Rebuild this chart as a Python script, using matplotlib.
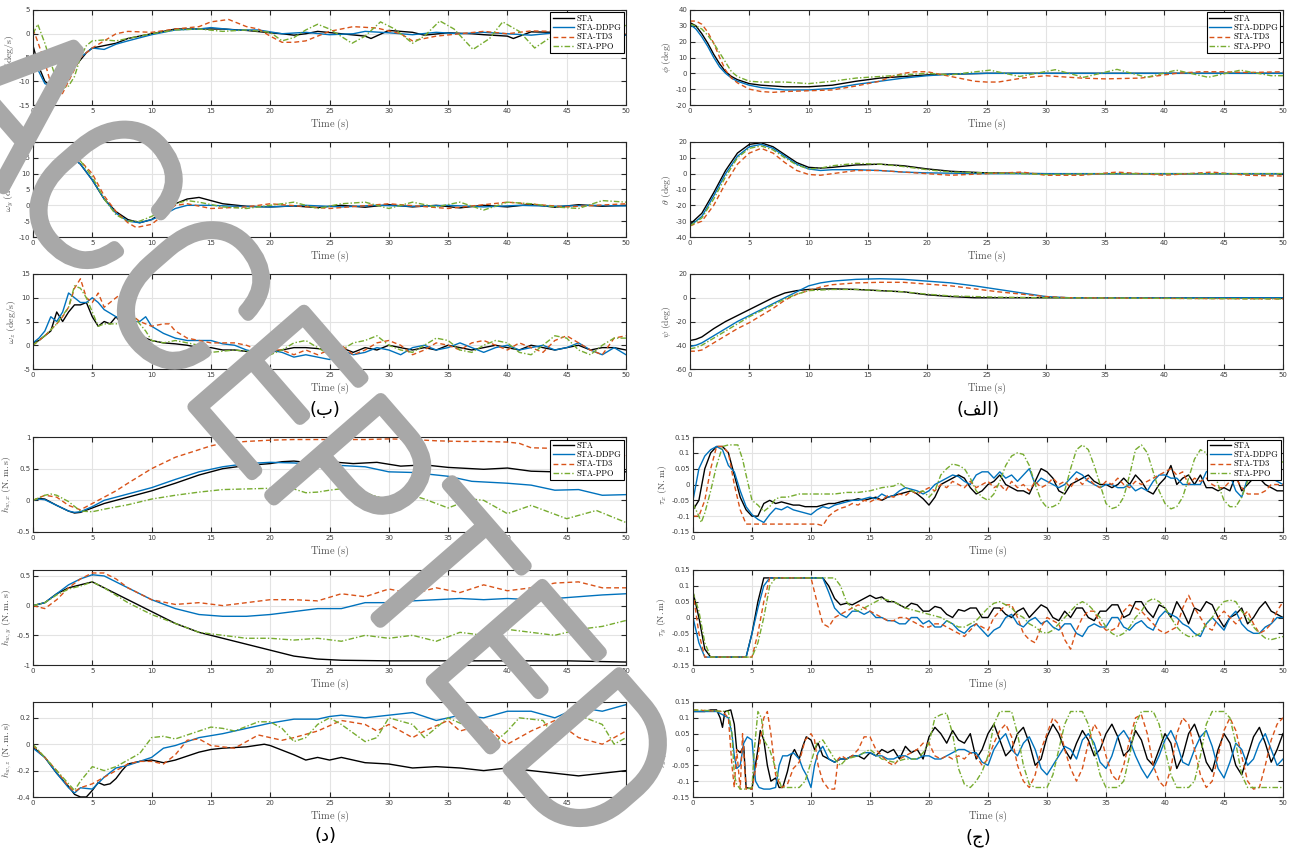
import matplotlib
matplotlib.use('Agg')
import matplotlib.pyplot as plt
import matplotlib.patheffects as pe
from matplotlib.ticker import FuncFormatter

plt.rcParams['mathtext.fontset'] = 'cm'
plt.rcParams['axes.unicode_minus'] = False

names = ['STA', 'STA-DDPG', 'STA-TD3', 'STA-PPO']

# ---- angular rates (deg/s) ----
wx_sta = [(0,-2.5),(0.5,-7),(1,-10),(1.5,-11),(2,-11),(2.5,-10),(3,-8),(3.5,-7),(4,-5.5),(4.5,-4),(5,-3),(6,-2.5),(7,-2),(8,-1),(9,-0.5),(10,0),(12,1),(14,1),(16,1),(18,0.7),(20,0.2),(21,0),(22,-0.3),(23,0),(24,0.5),(26,0),(28,-0.5),(28.5,-1),(30,0.7),(31,0.5),(32,0.3),(33,-0.3),(35,0.2),(37,0),(38,-0.2),(40,-0.5),(40.5,-1),(42,0.4),(44,0.3),(46,0),(48,0.2),(50,-0.3)]
wx_ddpg = [(0,-4.5),(0.5,-8),(1,-10.5),(1.5,-11),(2,-11),(2.5,-9.5),(3,-8),(4,-5),(5,-3),(6,-3.3),(7,-2.2),(8,-1.5),(10,-0.2),(12,0.8),(14,1),(15,1.3),(17,0.8),(19,0.8),(21,0),(23,0.3),(25,-0.2),(27,0),(28,0.5),(30,0.2),(32,-0.2),(34,0.3),(36,0),(38,0.3),(40,0),(42,-0.3),(44,0.2),(46,0.5),(48,0.3),(50,-0.3)]
wx_td3 = [(0,1),(0.3,-1),(1,-6),(1.5,-10.5),(2,-13.5),(2.5,-12.5),(3,-10),(4,-5),(5,-3),(6,-1.5),(7,0),(8,0.5),(10,0.3),(12,1),(14,1.5),(15,2.5),(16.5,3),(18,1.5),(19,1),(20,-0.5),(21,-1.8),(22,-1.8),(23,-1.5),(24,-0.5),(25,0.5),(27,1.5),(29,1.2),(31,0),(32,-1.5),(34,-0.5),(36,0),(38,0.5),(40,0),(42,0.6),(44,0.5),(46,0.2),(48,0),(50,0)]
wx_ppo = [(0,0),(0.4,2),(1,-2),(1.5,-6),(2,-10),(2.5,-11.5),(3,-11),(3.5,-9),(4,-5),(4.5,-2.5),(5,-1.5),(6,-1.3),(7,-1.5),(8,-1),(10,0),(12,0.8),(14,1),(16,0.5),(18,0.8),(20,0.3),(21,-1.5),(22,-0.8),(23,0.8),(24,2),(25,1),(26.9,-2),(28,-0.5),(29.3,2.5),(30.5,1),(32,-2),(33,-0.5),(34.3,2.7),(35.5,1),(37.1,-3.3),(38.5,-1),(39.6,2.5),(41,0.5),(42.3,-3),(43.5,-1),(44.8,1.5),(46,0.5),(47.5,-1.5),(49,0.5),(50,1.8)]

wy_sta = [(0,-1),(0.5,3),(1,8),(1.5,11),(2,13.5),(2.5,14.7),(3,15),(3.5,14.5),(4,13),(5,8),(6,2),(7,-2),(8,-4.5),(9,-5.5),(10,-4.5),(11,-2),(12,0.5),(13,2),(14,2.5),(15,1.5),(16,0.5),(18,-0.3),(20,-0.5),(22,-0.2),(24,-0.7),(26,0),(28,-0.6),(30,0.2),(32,-0.5),(34,0),(36,-0.8),(38,0),(40,-0.5),(42,0.3),(44,-0.6),(46,0.2),(48,-0.3),(50,0)]
wy_ddpg = [(0,-1),(0.5,3),(1,7),(1.5,10.5),(2,13),(2.5,14.5),(3,15),(3.5,14.5),(4,13),(5,8),(6,2),(7,-2.5),(8,-5),(9,-5.5),(10,-4.5),(11,-3),(12,-1),(13,0),(15,0),(17,-0.3),(20,-0.5),(23,0),(26,-0.5),(29,0),(32,-0.3),(35,0),(38,-0.5),(41,0),(44,-0.3),(47,0),(50,-0.2)]
wy_td3 = [(0,-1.5),(1,4),(2,11),(3,15),(4,14),(5,10),(6,3),(7,-2),(8,-5.5),(8.7,-7),(10,-6),(11,-3),(12,0),(13,0.5),(15,-1),(18,-0.5),(20,0.5),(25,-1),(30,0.5),(35,-1),(40,1),(45,-0.5),(50,0.5)]
wy_ppo = [(0,-2),(1,5),(2,12),(3,15),(4,14),(5,9),(6,2),(7,-3),(8,-5),(9,-5),(10,-3.5),(11,-1.5),(12,0.5),(13,1.5),(14,1),(16,-0.5),(18,-1),(20,0),(22,1),(24,-1),(26,0.5),(28,1),(30,-1),(32,1),(34,-0.5),(36,1),(38,-1.5),(40,1),(42,0.5),(44,-0.5),(46,-1),(48,1.5),(50,1)]

wz_sta = [(0,0.5),(0.5,1),(1,2),(1.5,3),(2,7),(2.5,5),(3,7),(3.5,8.5),(4,8.5),(4.5,9),(5,6),(5.5,4),(6,5),(6.5,4.5),(7,6),(7.5,4.5),(8,3),(8.5,3),(9,2),(10,1),(11,0.5),(12,0.3),(13,0),(14,-0.5),(15,-0.5),(16,-1),(17,-1),(18,-1.3),(19,-2),(20,-1.5),(21,-1),(22,-0.5),(23,-0.5),(24,-0.7),(25,-1),(26,-0.5),(27,-1.5),(28,-0.5),(29,-1),(30,0),(31,-0.5),(32,-1),(33,-0.5),(34,-1),(35,0),(36,-0.5),(37,-1),(38,-0.5),(39,0),(40,-0.5),(41,-1),(42,0),(43,-0.5),(44,-1),(45,-0.5),(46,0),(47,-1),(48,-0.5),(49,-0.5),(50,-1)]
wz_ddpg = [(0,0.5),(0.5,1.5),(1,3),(1.5,6),(2,5),(2.5,7),(3,11),(3.5,10),(4,9),(4.5,9),(5,10),(5.5,9),(6,7.5),(7,6),(8,5),(9,5),(9.5,6),(10,4),(11,2.5),(12,1.5),(13,1),(15,1),(16,0.3),(17,0),(18,-1),(19,-1.5),(20,-1),(21,-1.5),(22,-2.5),(23,-2),(24,-2.5),(25,-3),(26,-1),(27,-2),(28,-1.5),(29,-0.5),(30,-1),(31,-2),(32,-0.5),(33,0),(34,-1),(35,-0.5),(36,0.5),(37,-0.5),(38,-1.5),(39,-0.5),(40,0),(41,-1),(42,-0.5),(43,0),(44,-1),(45,-0.5),(46,0.5),(47,-1),(48,-2),(49,-0.5),(50,-2)]
wz_td3 = [(0,0),(1,2),(2,4.5),(2.5,6),(3,8),(3.5,12),(4,14),(4.5,10),(5,9),(5.5,11),(6,8),(7,10),(7.5,11),(8,7),(9,5),(10,4),(11,4.5),(11.5,4.5),(12,3),(13,1.5),(15,0.5),(17,0.5),(18,0),(19,-1),(20,-1),(21,-1),(22,-2),(23,-1),(24,-2),(25,-1),(26,0),(27,-2),(28,-1),(29,0.5),(30,1),(31,0),(32,-2),(33,-1),(34,0.5),(35,0),(36,-1),(37,0.5),(38,1),(39,0),(40,-1),(41,0.5),(42,-0.5),(43,-1.5),(44,1),(45,2),(46,0.5),(47,-1),(48,-2),(49,1.5),(50,2)]
wz_ppo = [(0,0),(1,2),(2,4.5),(3,8),(3.5,12.5),(4,12),(4.5,10),(5,7),(5.5,4),(6,4.5),(7,4.5),(8,5),(8.5,6),(9,4.5),(9.5,3),(10,1),(11,0.5),(12,1),(13,0.5),(14,0),(15,-1.5),(17,-1),(19,-1.5),(20,-2),(21,-1),(22,0.5),(23,1),(24,-0.5),(25,-2),(26,-1),(27,0.5),(28,1),(29,2),(30,0),(31,-1),(32,-1.5),(33,0),(34,1.5),(35,1),(36,-1),(37,-1.5),(38,0),(39,1),(40,0.5),(41,-1.5),(42,-2),(43,0),(44,2),(45,1.5),(46,-1),(47,-2),(48,0),(49,1.5),(50,1.5)]

# ---- Euler angles (deg) ----
phi_sta = [(0,32),(0.5,30),(1,25),(1.5,19),(2,12),(2.5,6),(3,1),(3.5,-2),(4,-4),(5,-6.5),(6,-7.5),(8,-8.5),(10,-8.5),(12,-7.5),(14,-5),(16,-3),(18,-2),(20,-1),(22,-0.5),(25,0),(50,0)]
phi_ddpg = [(0,31),(0.5,28),(1,23),(1.5,17),(2,10),(2.5,4),(3,0),(3.5,-3),(4,-5),(5,-7.5),(6,-9),(8,-10.5),(10,-10.5),(12,-9.5),(14,-7),(16,-5),(18,-3),(20,-1.5),(22,-0.5),(25,0),(50,0)]
phi_td3 = [(0,33),(0.5,33),(1,31),(1.5,26),(2,19),(2.5,10),(3,2),(3.5,-3),(4,-6),(5,-10),(6,-11.5),(7,-12),(8,-11.5),(10,-11),(12,-10.5),(14,-8),(16,-5),(17,-2),(18,0),(19,1),(20,1),(21,-0.5),(22,-2),(24,-5),(25,-5.5),(26,-5.5),(28,-3),(30,-1.5),(33,-3),(35,-3.5),(38,-3),(40,-1),(41,0),(43,1),(45,1),(47,0.5),(50,1)]
phi_ppo = [(0,31),(0.5,30),(1,28),(1.5,24),(2,19),(2.5,13),(3,7),(3.5,1),(4,-2),(5,-5),(6,-5.5),(8,-5.5),(10,-6.5),(12,-5),(14,-3),(16,-2),(18,-1),(20,0),(22,-1),(23.5,0.5),(25.3,2),(27.8,-2),(30.8,2.3),(33.2,-2.5),(36,2.5),(38.5,-2.5),(41,2),(43.7,-2.5),(46.4,2),(49,-1.5),(50,-1.5)]

th_sta = [(0,-32),(1,-25),(2,-12),(3,2),(4,13),(5,18.5),(6,19.5),(7,17),(8,12),(9,7),(10,4),(11,3.5),(12,4),(14,5.5),(16,6),(18,5),(20,3),(22,1.5),(25,0.5),(30,0),(50,0)]
th_ddpg = [(0,-33),(1,-27),(2,-14),(3,0),(4,11),(5,17),(6,18.5),(7,16),(8,11),(9,6),(10,3),(11,2),(12,2.5),(14,2.5),(16,2),(18,1),(20,0.5),(25,0),(50,0)]
th_td3 = [(0,-33),(1,-30),(2,-20),(3,-6),(4,6),(5,13),(6,16),(7,13),(8,7),(9,2),(10,-0.5),(11,-1),(12,0),(14,2),(16,2),(18,1),(20,0),(22,-1),(25,0),(28,1),(30,-1),(33,-1),(36,1),(40,-1),(44,1),(47,-1),(50,-1.5)]
th_ppo = [(0,-33),(1,-28),(2,-16),(3,-2),(4,10),(5,16),(6,17.5),(7,15),(8,10),(9,5.5),(10,3),(11,3.5),(12,5),(14,6.5),(16,6),(18,4.5),(20,2.5),(22,1),(25,0.5),(28,0),(30,-0.5),(35,0),(50,0)]

psi_sta = [(0,-36),(0.5,-35),(1,-33),(2,-26),(3,-20),(4,-15),(5,-10),(6,-5),(7,0),(8,4),(9,6),(10,7),(12,7.5),(14,7),(16,6),(18,5),(20,2.5),(22,1),(24,0),(50,0)]
psi_ddpg = [(0,-41),(0.5,-40),(1,-38),(2,-32),(3,-26),(4,-20),(5,-15),(6,-10),(7,-5),(8,0),(9,5),(10,10),(11,12.5),(12,14),(14,15.5),(16,16),(18,15.5),(20,14),(22,12.5),(24,10),(26,7),(28,4),(30,1),(32,0),(50,0)]
psi_td3 = [(0,-45),(0.5,-45),(1,-44),(2,-38),(3,-32),(4,-26),(5,-21),(6,-15),(7,-9),(8,-2),(9,3),(10,6),(11,9),(12,11),(14,12.5),(16,13),(18,13),(20,11.5),(22,10),(24,7.5),(26,5),(28,3),(30,1),(32,0),(40,-0.5),(50,-1)]
psi_ppo = [(0,-43),(0.5,-42),(1,-40),(2,-34),(3,-28),(4,-22),(5,-16),(6,-11),(7,-6),(8,-1),(9,3),(10,6),(12,7),(14,7),(16,6),(18,5),(20,3),(22,1.5),(24,1),(26,0.5),(30,0),(40,-0.5),(50,-1)]

# ---- wheel momentum (N.m.s) ----
hx_sta = [(0,0),(0.5,0.03),(1,0.02),(2,-0.08),(3,-0.17),(3.5,-0.2),(4,-0.19),(5,-0.12),(6,-0.05),(8,0.05),(10,0.15),(12,0.27),(14,0.4),(16,0.5),(18,0.55),(20,0.58),(21,0.61),(22,0.62),(23,0.6),(24,0.58),(25,0.61),(27,0.58),(29,0.6),(31,0.54),(33,0.56),(35,0.52),(38,0.49),(40,0.51),(42,0.46),(44,0.45),(46,0.47),(48,0.45),(50,0.45)]
hx_ddpg = [(0,0),(0.5,0.02),(1,0.01),(2,-0.08),(3,-0.17),(3.5,-0.19),(4,-0.18),(5,-0.1),(6,0),(8,0.1),(10,0.2),(12,0.33),(14,0.45),(16,0.53),(18,0.58),(20,0.6),(22,0.59),(25,0.56),(28,0.53),(30,0.45),(32,0.44),(35,0.38),(37,0.3),(40,0.27),(42,0.24),(44,0.16),(46,0.17),(48,0.08),(50,0.09)]
hx_td3 = [(0,0),(1,0.08),(2,0.05),(3,-0.08),(4,-0.15),(4.5,-0.1),(5,-0.05),(6,0.05),(7,0.15),(8,0.27),(10,0.5),(12,0.68),(14,0.8),(15,0.86),(16,0.9),(18,0.93),(20,0.95),(22,0.96),(25,0.96),(28,0.96),(30,0.97),(32,0.96),(34,0.94),(36,0.93),(38,0.93),(40,0.92),(41,0.9),(42,0.83),(44,0.82),(46,0.83),(48,0.8),(50,0.7)]
hx_ppo = [(0,0),(1,0.08),(1.5,0.1),(2,0.08),(3,-0.02),(4,-0.17),(5,-0.18),(6,-0.14),(8,-0.07),(10,0.02),(12,0.08),(14,0.13),(16,0.17),(18,0.18),(20,0.19),(21,0.22),(22,0.18),(23,0.12),(24,0.13),(25,0.16),(26.7,0.2),(28,0.12),(30,0),(31.5,0.11),(33,0.02),(35,-0.12),(37,0.02),(38,0),(40,-0.21),(42,-0.08),(43,-0.15),(45,-0.29),(47.5,-0.16),(50,-0.35)]

hy_sta = [(0,0),(1,0.05),(2,0.2),(3,0.3),(4,0.35),(5,0.4),(6,0.3),(8,0.1),(10,-0.1),(12,-0.3),(14,-0.45),(16,-0.55),(18,-0.65),(20,-0.75),(22,-0.85),(24,-0.9),(26,-0.92),(30,-0.93),(35,-0.93),(40,-0.93),(45,-0.93),(50,-0.95)]
hy_ddpg = [(0,0),(1,0.05),(2,0.2),(3,0.35),(4,0.45),(5,0.52),(6,0.5),(8,0.3),(10,0.1),(12,-0.05),(14,-0.15),(16,-0.18),(18,-0.18),(20,-0.15),(22,-0.1),(24,-0.05),(26,-0.05),(28,0.05),(30,0.05),(32,0.08),(34,0.1),(36,0.12),(38,0.1),(40,0.12),(42,0.1),(44,0.12),(46,0.15),(48,0.18),(50,0.2)]
hy_td3 = [(0,0),(1,-0.05),(2,0.1),(3,0.3),(4,0.45),(5,0.55),(6,0.55),(7,0.45),(8,0.3),(10,0.1),(12,0.02),(14,0.05),(16,0),(18,0.05),(20,0.1),(22,0.1),(24,0.08),(26,0.2),(28,0.15),(30,0.28),(32,0.2),(34,0.3),(36,0.22),(38,0.35),(40,0.25),(42,0.3),(44,0.38),(46,0.4),(48,0.3),(50,0.3)]
hy_ppo = [(0,0),(1,0.05),(2,0.18),(3,0.28),(4,0.33),(5,0.4),(6,0.3),(8,0.05),(10,-0.15),(12,-0.3),(14,-0.45),(16,-0.5),(18,-0.55),(20,-0.55),(22,-0.58),(24,-0.55),(26,-0.6),(28,-0.5),(30,-0.55),(32,-0.5),(34,-0.6),(36,-0.45),(38,-0.5),(40,-0.4),(42,-0.45),(44,-0.5),(46,-0.4),(48,-0.35),(50,-0.25)]

hz_sta = [(0,-0.02),(1,-0.1),(2,-0.22),(3,-0.32),(3.5,-0.38),(4,-0.4),(4.5,-0.4),(5,-0.35),(5.5,-0.29),(6,-0.31),(6.5,-0.3),(7,-0.26),(7.5,-0.2),(8,-0.15),(9,-0.13),(10,-0.12),(11,-0.14),(12,-0.12),(14,-0.06),(15,-0.04),(16,-0.03),(18,-0.02),(19.5,0),(20,-0.01),(22,-0.08),(23,-0.12),(24,-0.1),(25,-0.12),(26,-0.1),(28,-0.14),(30,-0.15),(32,-0.18),(34,-0.17),(36,-0.18),(38,-0.2),(40,-0.18),(42,-0.2),(44,-0.22),(46,-0.24),(48,-0.22),(50,-0.2)]
hz_ddpg = [(0,-0.03),(1,-0.1),(2,-0.22),(3,-0.33),(3.5,-0.37),(4,-0.33),(5,-0.34),(6,-0.25),(7,-0.18),(8,-0.16),(9,-0.13),(10,-0.1),(11,-0.03),(12,-0.01),(14,0.05),(16,0.08),(18,0.12),(20,0.16),(22,0.19),(24,0.19),(25,0.21),(26,0.22),(28,0.2),(30,0.22),(32,0.24),(34,0.18),(36,0.22),(38,0.2),(40,0.25),(42,0.25),(44,0.2),(46,0.28),(48,0.25),(50,0.3)]
hz_td3 = [(0,-0.01),(1,-0.1),(2,-0.2),(3,-0.32),(3.5,-0.36),(4,-0.33),(5,-0.3),(6,-0.25),(7,-0.2),(8,-0.15),(9,-0.13),(10,-0.13),(11,-0.15),(12,-0.08),(13,0.03),(14,0.04),(15,-0.01),(17,-0.03),(19,0.07),(20,0.05),(21,0.03),(22,0.05),(24,0.1),(25,0.14),(26,0.18),(28,0.15),(29,0.1),(30,0.15),(32,0.05),(33,0.1),(35,0.18),(36,0.1),(38,0.15),(40,0),(42,0.1),(44,0.18),(46,0.05),(48,0),(50,0.1)]
hz_ppo = [(0,0),(1,-0.1),(2,-0.2),(3,-0.3),(3.5,-0.35),(4,-0.28),(5,-0.17),(6,-0.2),(7,-0.17),(8,-0.12),(9,-0.07),(10,0.05),(11,0.06),(12,0.04),(14,0.1),(15,0.13),(16,0.12),(17,0.1),(19,0.17),(20,0.17),(21,0.12),(22,0.02),(23,0.05),(24,0.15),(25,0.2),(26,0.15),(28,0.02),(29,0.05),(30,0.2),(32,0.15),(33,0.05),(35,0.2),(37,0.12),(39,0.02),(40,0.1),(41,0.2),(43,0.18),(44,0.05),(45,0.1),(46,0.22),(48,0.15),(49,0),(50,0.05)]

# ---- control torques (N.m) ----
tx_sta = [(0,-0.08),(0.5,-0.05),(1,0.05),(1.5,0.1),(2,0.12),(2.5,0.12),(3,0.1),(3.5,0.03),(4,-0.04),(4.5,-0.08),(5,-0.1),(5.5,-0.1),(6,-0.06),(6.5,-0.05),(7,-0.06),(7.5,-0.055),(8,-0.06),(8.5,-0.065),(9,-0.065),(9.5,-0.07),(10,-0.07),(10.5,-0.07),(11,-0.065),(11.5,-0.06),(12,-0.06),(12.5,-0.055),(13,-0.05),(13.5,-0.05),(14,-0.045),(14.5,-0.05),(15,-0.045),(15.5,-0.04),(16,-0.05),(16.5,-0.04),(17,-0.035),(17.5,-0.03),(18,-0.025),(18.5,-0.02),(19,-0.03),(19.5,-0.045),(20,-0.065),(20.5,-0.04),(21,0),(21.5,0.01),(22,0.02),(22.5,0.03),(23,0.02),(23.5,-0.01),(24,-0.03),(24.5,-0.02),(25,0),(25.5,0.01),(26,0.03),(26.5,0),(27,-0.01),(27.5,-0.02),(28,-0.02),(28.5,-0.03),(29,0.01),(29.5,0.05),(30,0.04),(30.5,0.02),(31,-0.02),(31.5,-0.03),(32,0),(32.5,0.01),(33,0.02),(33.5,0.03),(34,0.01),(34.5,0),(35,0),(35.5,-0.01),(36,0),(36.5,0.02),(37,0),(37.5,0.03),(38,0.01),(38.5,-0.02),(39,-0.03),(39.5,0),(40,0.02),(40.5,0.06),(41,0),(41.5,0.02),(42,0.03),(42.5,0),(43,0.03),(43.5,-0.01),(44,-0.01),(44.5,-0.02),(45,-0.01),(45.5,-0.02),(46,0.03),(46.5,-0.02),(47,0),(47.5,0.02),(48,0.02),(48.5,0),(49,-0.01),(49.5,-0.02),(50,-0.02)]
tx_ddpg = [(0,-0.05),(0.5,0.05),(1,0.09),(1.5,0.11),(2,0.12),(2.5,0.11),(3,0.06),(3.5,0.04),(4,-0.02),(4.5,-0.07),(5,-0.095),(5.5,-0.11),(6,-0.12),(6.5,-0.095),(7,-0.075),(7.5,-0.08),(8,-0.07),(8.5,-0.08),(9,-0.085),(9.5,-0.09),(10,-0.095),(10.5,-0.08),(11,-0.07),(11.5,-0.075),(12,-0.065),(12.5,-0.06),(13,-0.055),(13.5,-0.05),(14,-0.05),(14.5,-0.045),(15,-0.04),(15.5,-0.045),(16,-0.03),(16.5,-0.04),(17,-0.035),(17.5,-0.02),(18,-0.01),(18.5,-0.015),(19,-0.02),(19.5,-0.03),(20,-0.02),(20.5,0),(21,0.01),(21.5,0.02),(22,0.03),(22.5,0.025),(23,0.01),(23.5,0),(24,0.03),(24.5,0.04),(25,0.04),(25.5,0.02),(26,0.04),(26.5,0.02),(27,0.03),(27.5,0.01),(28,0.03),(28.5,0.05),(29,0),(29.5,0.02),(30,0.01),(30.5,0),(31,-0.01),(31.5,0),(32,0.02),(32.5,0.04),(33,0.03),(33.5,0.01),(34,0),(34.5,-0.01),(35,0),(35.5,0),(36,-0.01),(36.5,-0.01),(37,0),(37.5,-0.02),(38,-0.01),(38.5,-0.02),(39,0.01),(39.5,0.03),(40,0.03),(40.5,0.02),(41,0.02),(41.5,0),(42,0),(42.5,0),(43,0),(43.5,0.04),(44,0.05),(44.5,0.05),(45,0.05),(45.5,0.03),(46,-0.02),(46.5,-0.04),(47,0.02),(47.5,0.03),(48,0.03),(48.5,0.02),(49,0.02),(49.5,0.01),(50,0)]
tx_td3 = [(0,-0.1),(0.5,-0.1),(1,-0.05),(1.5,0.05),(2,0.12),(2.5,0.12),(3,0.1),(3.5,0),(4,-0.08),(4.5,-0.125),(5,-0.125),(7,-0.125),(9,-0.125),(10.5,-0.125),(11,-0.13),(11.5,-0.1),(12,-0.085),(12.5,-0.075),(13,-0.07),(13.5,-0.06),(14,-0.065),(14.5,-0.05),(15,-0.055),(15.5,-0.045),(16,-0.05),(16.5,-0.035),(17,-0.04),(17.5,-0.03),(18,-0.035),(18.5,-0.02),(19,-0.03),(19.5,-0.02),(20,-0.01),(20.5,-0.02),(21,0),(21.5,-0.01),(22,0.01),(22.5,0),(23,-0.01),(23.5,0.01),(24,-0.01),(24.5,0),(25,0.01),(25.5,-0.01),(26,0),(26.5,-0.02),(27,0.01),(27.5,-0.01),(28,0),(28.5,-0.02),(29,0.01),(29.5,-0.01),(30,0),(30.5,0.02),(31,0),(31.5,0.01),(32,-0.01),(32.5,0.02),(33,0),(33.5,0.02),(34,0),(34.5,-0.01),(35,0.01),(35.5,0),(36,0.02),(36.5,0),(37,-0.01),(37.5,0.01),(38,0),(38.5,0.01),(39,0.02),(39.5,0.03),(40,0.04),(40.5,0.05),(41,0.03),(41.5,0.04),(42,0),(42.5,0.02),(43,0.01),(43.5,0.02),(44,0),(44.5,-0.01),(45,-0.01),(45.5,0.01),(46,0.02),(46.5,-0.01),(47,-0.03),(47.5,-0.03),(48,-0.03),(48.5,-0.02),(49,0),(49.5,0),(50,0)]
tx_ppo = [(0,-0.06),(0.5,-0.1),(0.7,-0.12),(1,-0.09),(1.5,-0.02),(2,0.06),(2.5,0.12),(3,0.125),(3.8,0.125),(4.2,0.08),(4.5,0.03),(5,-0.05),(5.5,-0.065),(6,-0.085),(6.5,-0.07),(7,-0.045),(7.5,-0.04),(8,-0.04),(8.5,-0.035),(9,-0.03),(10,-0.03),(11,-0.03),(12,-0.03),(13,-0.025),(14,-0.025),(15,-0.02),(16,-0.01),(17,-0.005),(17.5,0.005),(18,-0.01),(18.5,-0.02),(19,-0.025),(19.5,-0.02),(20,-0.04),(20.5,-0.02),(21,0.03),(21.5,0.05),(22,0.065),(22.5,0.06),(23,0.05),(23.5,0.02),(24,-0.02),(24.5,-0.04),(25,-0.05),(25.5,-0.03),(26,0.01),(26.5,0.06),(27,0.09),(27.5,0.1),(28,0.095),(28.5,0.06),(29,0),(29.5,-0.05),(30,-0.073),(30.5,-0.07),(31,-0.06),(31.5,-0.02),(32,0.05),(32.5,0.11),(33,0.125),(33.5,0.11),(34,0.06),(34.5,0),(35,-0.06),(35.5,-0.076),(36,-0.07),(36.5,-0.04),(37,0.03),(37.5,0.11),(38,0.125),(38.5,0.1),(39,0.04),(39.5,-0.02),(40,-0.06),(40.5,-0.077),(41,-0.07),(41.5,-0.04),(42,0.02),(42.5,0.08),(43,0.11),(43.5,0.1),(44,0.06),(44.5,0),(45,-0.05),(45.5,-0.07),(46,-0.07),(46.5,-0.04),(47,0.01),(47.5,0.06),(48,0.09),(48.5,0.1),(49,0.09),(49.5,0.08),(50,0.07)]

ty_sta = [(0,0.08),(0.5,0),(1,-0.1),(1.5,-0.125),(4.5,-0.125),(5,-0.05),(5.5,0.05),(6,0.125),(11,0.125),(11.5,0.1),(12,0.06),(12.5,0.04),(13,0.045),(13.5,0.04),(14,0.05),(14.5,0.06),(15,0.07),(15.5,0.06),(16,0.065),(16.5,0.05),(17,0.05),(17.5,0.04),(18,0.03),(18.5,0.045),(19,0.04),(19.5,0.02),(20,0.02),(20.5,0.035),(21,0.03),(21.5,0.01),(22,0),(22.5,0.025),(23,0.02),(23.5,0.03),(24,0.03),(24.5,0),(25,0),(25.5,0.03),(26,0.03),(26.5,0.01),(27,0),(27.5,0.02),(28,0.03),(28.5,0),(29,0.02),(29.5,0.04),(30,0.03),(30.5,0),(31,-0.01),(31.5,0.02),(32,0),(32.5,0.03),(33,0.03),(33.5,0),(34,-0.01),(34.5,0.02),(35,0.02),(35.5,0.04),(36,0.04),(36.5,0),(37,0.01),(37.5,0.05),(38,0.05),(38.5,0.02),(39,0),(39.5,0.04),(40,0.03),(40.5,0),(41,0.05),(41.5,0.02),(42,-0.02),(42.5,0.03),(43,0.02),(43.5,0.05),(44,0.04),(44.5,0),(45,-0.03),(45.5,0),(46,0.01),(46.5,0.03),(47,-0.02),(47.5,0),(48,0.03),(48.5,0.05),(49,0.02),(49.5,0.01),(50,0)]
ty_ddpg = [(0,0),(0.5,-0.08),(1,-0.125),(4.5,-0.125),(5,-0.05),(5.5,0.03),(6,0.1),(6.5,0.125),(11,0.125),(11.5,0.08),(12,0.03),(12.5,0.01),(13,0),(13.5,0.02),(14,0.02),(14.5,0.01),(15,0.02),(15.5,0),(16,0),(16.5,-0.01),(17,-0.01),(17.5,-0.02),(18,-0.02),(18.5,0),(19,0),(19.5,-0.02),(20,-0.01),(20.5,-0.03),(21,-0.03),(21.5,-0.01),(22,-0.02),(22.5,-0.04),(23,-0.05),(23.5,-0.03),(24,-0.02),(24.5,-0.04),(25,-0.06),(25.5,-0.04),(26,-0.03),(26.5,0),(27,0.01),(27.5,-0.02),(28,-0.03),(28.5,-0.01),(29,0),(29.5,-0.02),(30,-0.01),(30.5,-0.03),(31,-0.04),(31.5,-0.02),(32,-0.02),(32.5,-0.05),(33,-0.06),(33.5,-0.03),(34,-0.02),(34.5,-0.03),(35,-0.03),(35.5,0),(36,0),(36.5,-0.03),(37,-0.04),(37.5,-0.02),(38,-0.01),(38.5,-0.03),(39,-0.04),(39.5,0),(40,0.02),(40.5,0.01),(41,0),(41.5,-0.02),(42,-0.03),(42.5,-0.05),(43,-0.06),(43.5,-0.02),(44,0),(44.5,-0.02),(45,-0.04),(45.5,0),(46,0.02),(46.5,-0.02),(47,-0.04),(47.5,-0.05),(48,-0.05),(48.5,-0.03),(49,-0.02),(49.5,0),(50,0)]
ty_td3 = [(0,0.08),(0.5,-0.05),(1,-0.125),(5,-0.125),(5.5,-0.05),(6,0.05),(6.5,0.125),(10,0.125),(10.5,0.05),(11,-0.02),(11.5,-0.03),(12,0),(12.5,0.01),(13,0.02),(13.5,0.03),(14,0.04),(14.5,0.03),(15,0.02),(15.5,0.01),(16,0),(16.5,-0.01),(17,-0.01),(17.5,0),(18,0),(18.5,-0.01),(19,-0.02),(19.5,-0.03),(20,-0.03),(20.5,-0.02),(21,-0.02),(21.5,-0.03),(22,-0.04),(22.5,-0.05),(23,-0.06),(23.5,-0.04),(24,-0.02),(24.5,-0.03),(25,-0.04),(25.5,0),(26,0.02),(26.5,0.04),(27,0.04),(27.5,0),(28,-0.05),(28.5,-0.07),(29,-0.08),(29.5,-0.03),(30,0),(30.5,-0.01),(31,-0.02),(31.5,-0.07),(32,-0.1),(32.5,-0.04),(33,0),(33.5,0.02),(34,0.02),(34.5,-0.02),(35,-0.04),(35.5,-0.04),(36,-0.03),(36.5,0.02),(37,0.04),(37.5,0.03),(38,0.02),(38.5,0),(39,-0.02),(39.5,-0.04),(40,-0.05),(40.5,-0.04),(41,-0.03),(41.5,0.03),(42,0.07),(42.5,0.03),(43,0),(43.5,-0.03),(44,-0.04),(44.5,0),(45,0.02),(45.5,0),(46,-0.02),(46.5,0),(47,0.02),(47.5,-0.02),(48,-0.05),(48.5,-0.04),(49,-0.02),(49.5,0.02),(50,0.05)]
ty_ppo = [(0,0.08),(0.5,0.02),(1,-0.08),(1.5,-0.125),(5,-0.125),(5.5,-0.08),(6,0),(6.5,0.1),(7,0.125),(12,0.125),(12.5,0.1),(13,0.05),(13.5,0.03),(14,0.02),(14.5,0.03),(15,0.04),(15.5,0.05),(16,0.06),(16.5,0.055),(17,0.05),(17.5,0.04),(18,0.03),(18.5,0.025),(19,0.02),(19.5,0.015),(20,0.01),(20.5,0.005),(21,0),(21.5,-0.01),(22,-0.02),(22.5,-0.03),(23,-0.03),(23.5,-0.02),(24,-0.01),(24.5,0.01),(25,0.03),(25.5,0.045),(26,0.05),(26.5,0.04),(27,0.03),(27.5,0.01),(28,0),(28.5,-0.02),(29,-0.03),(29.5,-0.045),(30,-0.05),(30.5,-0.04),(31,-0.02),(31.5,0),(32,0.02),(32.5,0.04),(33,0.05),(33.5,0.04),(34,0.02),(34.5,0),(35,-0.03),(35.5,-0.05),(36,-0.06),(36.5,-0.05),(37,-0.03),(37.5,0),(38,0.02),(38.5,0.05),(39,0.06),(39.5,0.05),(40,0.03),(40.5,0),(41,-0.03),(41.5,-0.05),(42,-0.06),(42.5,-0.06),(43,-0.05),(43.5,-0.02),(44,0),(44.5,0.03),(45,0.05),(45.5,0.055),(46,0.05),(46.5,0.02),(47,0),(47.5,-0.03),(48,-0.05),(48.5,-0.065),(49,-0.07),(49.5,-0.065),(50,-0.06)]

tz_sta = [(0,0.12),(1,0.12),(1.5,0.125),(2,0.125),(2.3,0.1),(2.5,0.07),(2.7,0.12),(3.2,0.125),(3.5,0.08),(3.7,0),(4,-0.01),(4.3,0.01),(4.5,-0.12),(5,-0.125),(5.2,-0.07),(5.5,0),(5.7,0.06),(6,0.03),(6.3,-0.05),(6.6,-0.1),(7,-0.09),(7.3,-0.12),(7.6,-0.12),(8,-0.07),(8.3,-0.02),(8.6,0),(9,-0.03),(9.3,0.01),(9.6,0.04),(10,0.03),(10.3,0),(10.6,0.02),(11,-0.02),(11.5,-0.03),(12,-0.04),(12.5,-0.03),(13,-0.03),(13.5,-0.02),(14,-0.02),(14.5,-0.03),(15,-0.01),(15.5,-0.02),(16,0),(16.5,-0.01),(17,0),(17.5,-0.03),(18,0.01),(18.5,-0.01),(19,0),(19.5,-0.03),(20,0.04),(20.5,0.07),(21,0.05),(21.5,0.02),(22,0.06),(22.5,0.03),(23,0.02),(23.5,0.05),(24,-0.03),(24.5,0),(25,0.05),(25.5,0.08),(26,0.03),(26.5,-0.02),(27,0),(27.5,0.05),(28,0.07),(28.5,0.02),(29,-0.05),(29.5,-0.03),(30,0.04),(30.5,0.08),(31,0.05),(31.5,0),(32,-0.03),(32.5,0.02),(33,0.06),(33.5,0.03),(34,-0.02),(34.5,0),(35,0.05),(35.5,0.08),(36,0.04),(36.5,-0.02),(37,0),(37.5,0.06),(38,0.03),(38.5,-0.03),(39,-0.05),(39.5,0),(40,0.05),(40.5,0.02),(41,-0.06),(41.5,-0.02),(42,0.05),(42.5,0.08),(43,0.03),(43.5,-0.04),(44,-0.07),(44.5,0),(45,0.05),(45.5,0.02),(46,-0.05),(46.5,-0.08),(47,-0.02),(47.5,0.04),(48,0.07),(48.5,0.02),(49,-0.04),(49.5,0),(50,0.05)]
tz_ddpg = [(0,0.12),(2,0.12),(2.5,0.11),(3,0.1),(3.3,0.05),(3.5,-0.02),(3.7,-0.06),(4,-0.05),(4.3,0.02),(4.6,0.04),(5,0.03),(5.3,-0.1),(5.6,-0.12),(6,-0.125),(6.5,-0.125),(7,-0.12),(7.3,-0.05),(7.6,-0.02),(8,-0.02),(8.5,-0.01),(9,-0.03),(9.3,-0.06),(9.6,-0.08),(10,-0.12),(10.3,-0.05),(10.6,-0.01),(11,0.01),(11.5,-0.03),(12,-0.04),(12.5,-0.03),(13,-0.03),(13.5,-0.02),(14,-0.02),(14.5,-0.01),(15,-0.01),(15.5,-0.02),(16,-0.02),(16.5,-0.03),(17,-0.03),(17.5,-0.02),(18,-0.02),(18.5,-0.03),(19,-0.03),(19.5,-0.02),(20,-0.02),(20.5,-0.03),(21,-0.03),(21.5,-0.02),(22,-0.01),(22.5,0),(23,0),(23.5,-0.01),(24,-0.01),(24.5,-0.04),(25,-0.05),(25.5,0),(26,0.03),(26.5,0.05),(27,0),(27.5,-0.02),(28,0.02),(28.5,0.04),(29,0),(29.5,-0.06),(30,-0.08),(30.5,-0.05),(31,-0.02),(31.5,0.01),(32,0),(32.5,-0.03),(33,0.03),(33.5,0.05),(34,0.02),(34.5,-0.04),(35,-0.06),(35.5,-0.02),(36,0.04),(36.5,0.06),(37,0.03),(37.5,-0.02),(38,-0.06),(38.5,-0.09),(39,-0.06),(39.5,-0.02),(40,0.03),(40.5,0.06),(41,0.02),(41.5,-0.04),(42,-0.05),(42.5,0),(43,0.04),(43.5,0.06),(44,0.01),(44.5,-0.06),(45,-0.09),(45.5,-0.04),(46,0.02),(46.5,0),(47,-0.05),(47.5,-0.03),(48,0.02),(48.5,0.05),(49,0),(49.5,-0.05),(50,-0.03)]
tz_td3 = [(0,0.125),(2.5,0.12),(3,0.1),(3.3,-0.05),(3.5,-0.12),(3.7,0),(4,-0.125),(4.2,0.05),(4.5,-0.125),(5,-0.125),(5.5,-0.02),(6,0.1),(6.3,0.12),(6.6,0.05),(7,-0.08),(7.5,-0.12),(8,-0.11),(8.5,-0.06),(9,-0.04),(9.5,0.03),(10,0.05),(10.3,0.03),(10.6,-0.05),(11,-0.1),(11.5,-0.125),(12,-0.125),(12.3,-0.03),(12.6,-0.02),(13,-0.03),(13.5,-0.02),(14,0),(14.5,0.04),(15,0.04),(15.5,0),(16,-0.02),(16.5,-0.04),(17,-0.05),(17.5,-0.03),(18,-0.02),(18.5,-0.01),(19,0),(19.5,0.02),(20,0.02),(20.5,-0.02),(21,-0.03),(21.5,-0.02),(22,-0.03),(22.5,-0.02),(23,-0.03),(23.5,-0.01),(24,-0.02),(24.5,-0.05),(25,-0.03),(25.5,0.02),(26,0.06),(26.5,0.08),(27,0.04),(27.5,-0.05),(28,-0.1),(28.5,-0.12),(29,-0.08),(29.5,0),(30,0.05),(30.5,0.1),(31,0.08),(31.5,0),(32,-0.06),(32.5,-0.1),(33,-0.06),(33.5,0.02),(34,0.08),(34.5,0.05),(35,-0.02),(35.5,-0.08),(36,-0.1),(36.5,-0.05),(37,0.03),(37.5,0.1),(38,0.11),(38.5,0.05),(39,-0.05),(39.5,-0.1),(40,-0.12),(40.5,-0.06),(41,0.05),(41.5,0.1),(42,0.08),(42.5,0),(43,-0.08),(43.5,-0.12),(44,-0.1),(44.5,-0.02),(45,0.06),(45.5,0.1),(46,0.06),(46.5,-0.02),(47,-0.1),(47.5,-0.125),(48,-0.12),(48.5,-0.05),(49,0.03),(49.5,0.08),(50,0.1)]
tz_ppo = [(0,0.125),(3,0.12),(3.3,0.05),(3.5,-0.08),(3.7,-0.11),(4,-0.125),(4.5,-0.125),(5,-0.12),(5.2,0),(5.5,0.12),(5.8,0.1),(6,0.03),(6.5,0),(7,-0.06),(7.5,-0.12),(9,-0.12),(9.5,-0.1),(10,-0.04),(10.5,0.02),(11,0.03),(11.5,0),(12,-0.03),(12.5,-0.05),(13,-0.03),(14,-0.02),(15,0),(16,-0.03),(17,-0.04),(18,-0.03),(19,-0.03),(19.5,-0.01),(20,0.02),(20.5,0.1),(21,0.11),(21.5,0.115),(22,0.05),(22.5,-0.06),(23,-0.11),(23.5,-0.12),(24,-0.1),(24.5,-0.07),(25,-0.02),(25.5,0.08),(26,0.12),(27,0.12),(27.5,0.05),(28,-0.05),(28.5,-0.11),(29,-0.12),(30,-0.12),(30.5,-0.08),(31,0),(31.5,0.08),(32,0.12),(33,0.12),(33.5,0.08),(34,0),(34.5,-0.08),(35,-0.12),(36,-0.12),(36.5,-0.1),(37,-0.02),(37.5,0.08),(38,0.12),(39,0.12),(39.5,0.08),(40,0),(40.5,-0.08),(41,-0.12),(42,-0.12),(42.5,-0.1),(43,-0.02),(43.5,0.08),(44,0.12),(45,0.12),(45.5,0.1),(46,0.02),(46.5,-0.08),(47,-0.12),(50,-0.12)]

colors = ['black', '#0072BD', '#D95319', '#77AC30']
styles = ['-', '-', (0, (3.5, 2.2)), (0, (4, 1.5, 1, 1.5))]

W, H = 1291, 856
fig = plt.figure(figsize=(W / 100, H / 100), dpi=100)


def add_ax(left, top, width=593, height=95):
    return fig.add_axes([left / W, 1 - (top + height) / H, width / W, height / H])


def panel(ax, series, ylim, yticks, ylabel, legend=False):
    for pts, name, c, ls in zip(series, names, colors, styles):
        t = [p[0] for p in pts]
        v = [p[1] for p in pts]
        ax.plot(t, v, color=c, linestyle=ls, linewidth=1.0, label=name)
    ax.set_xlim(0, 50)
    ax.set_ylim(*ylim)
    ax.set_xticks(range(0, 51, 5))
    ax.set_yticks(yticks)
    ax.yaxis.set_major_formatter(FuncFormatter(lambda v, p: '%g' % round(v, 4)))
    ax.tick_params(direction='in', top=True, right=True, length=3.5, width=0.8,
                   color='#262626', labelsize=5, labelcolor='#404040', pad=2)
    ax.grid(True, color='#e3e3e3', linewidth=0.8)
    ax.set_axisbelow(True)
    for s in ax.spines.values():
        s.set_color('#262626')
        s.set_linewidth(0.8)
    ax.set_xlabel(r'$\mathrm{Time\ (s)}$', fontsize=7.5, color='#505050', labelpad=2)
    ax.set_ylabel(ylabel, fontsize=7, color='#505050', labelpad=2)
    if legend:
        leg = ax.legend(loc='upper right', prop={'family': 'cmr10', 'size': 6},
                        fancybox=False, edgecolor='black', framealpha=1,
                        borderpad=0.25, labelspacing=0.1, handlelength=2.6,
                        handletextpad=0.3, borderaxespad=0.3)
        leg.get_frame().set_linewidth(0.8)


L, R1, R2 = 33, 690, 693

ax = add_ax(L, 10)
panel(ax, [wx_sta, wx_ddpg, wx_td3, wx_ppo], (-15, 5), range(-15, 6, 5), r'$\omega_x\ \mathrm{(deg/s)}$', True)
ax = add_ax(L, 142)
panel(ax, [wy_sta, wy_ddpg, wy_td3, wy_ppo], (-10, 20), range(-10, 21, 5), r'$\omega_y\ \mathrm{(deg/s)}$')
ax = add_ax(L, 274)
panel(ax, [wz_sta, wz_ddpg, wz_td3, wz_ppo], (-5, 15), range(-5, 16, 5), r'$\omega_z\ \mathrm{(deg/s)}$')

ax = add_ax(R1, 10)
panel(ax, [phi_sta, phi_ddpg, phi_td3, phi_ppo], (-20, 40), range(-20, 41, 10), r'$\phi\ \mathrm{(deg)}$', True)
ax = add_ax(R1, 142)
panel(ax, [th_sta, th_ddpg, th_td3, th_ppo], (-40, 20), range(-40, 21, 10), r'$\theta\ \mathrm{(deg)}$')
ax = add_ax(R1, 274)
panel(ax, [psi_sta, psi_ddpg, psi_td3, psi_ppo], (-60, 20), range(-60, 21, 20), r'$\psi\ \mathrm{(deg)}$')

ax = add_ax(L, 437)
panel(ax, [hx_sta, hx_ddpg, hx_td3, hx_ppo], (-0.5, 1), [-0.5, 0, 0.5, 1], r'$h_{w,x}\ \mathrm{(N.m.s)}$', True)
ax = add_ax(L, 570)
panel(ax, [hy_sta, hy_ddpg, hy_td3, hy_ppo], (-1, 0.6), [-1, -0.5, 0, 0.5], r'$h_{w,y}\ \mathrm{(N.m.s)}$')
ax = add_ax(L, 702)
panel(ax, [hz_sta, hz_ddpg, hz_td3, hz_ppo], (-0.4, 0.32), [-0.4, -0.2, 0, 0.2], r'$h_{w,z}\ \mathrm{(N.m.s)}$')

tq_ticks = [-0.15, -0.1, -0.05, 0, 0.05, 0.1, 0.15]
ax = add_ax(R2, 437, 590)
panel(ax, [tx_sta, tx_ddpg, tx_td3, tx_ppo], (-0.15, 0.15), tq_ticks, r'$\tau_x\ \mathrm{(N.m)}$', True)
ax = add_ax(R2, 570, 590)
panel(ax, [ty_sta, ty_ddpg, ty_td3, ty_ppo], (-0.15, 0.15), tq_ticks, r'$\tau_y\ \mathrm{(N.m)}$')
ax = add_ax(R2, 702, 590)
panel(ax, [tz_sta, tz_ddpg, tz_td3, tz_ppo], (-0.15, 0.15), tq_ticks, r'$\tau_z\ \mathrm{(N.m)}$')

# group captions (pre-shaped Arabic letters, visual order)
caps = [(325, 410, '(\u0628)'), (978, 410, '(\ufed2\ufedf\ufe8d)'),
        (325, 836, '(\u062f)'), (978, 838, '(\u062c)')]
for x, y, s in caps:
    fig.text(x / W, 1 - y / H, s, ha='center', va='center', fontsize=13,
             family='DejaVu Sans', color='black')

# watermark: thin letters thickened with a round stroke
wm_color = '#a8a8a8'
fig.text(297 / W, 1 - 440 / H, 'ACCEPTED', ha='center', va='center',
         rotation=-49, rotation_mode='anchor', fontsize=148, family='Roboto',
         weight='light', color=wm_color, zorder=10,
         path_effects=[pe.withStroke(linewidth=9, foreground=wm_color,
                                     capstyle='round', joinstyle='round')])

fig.savefig('out.png', dpi=100)
